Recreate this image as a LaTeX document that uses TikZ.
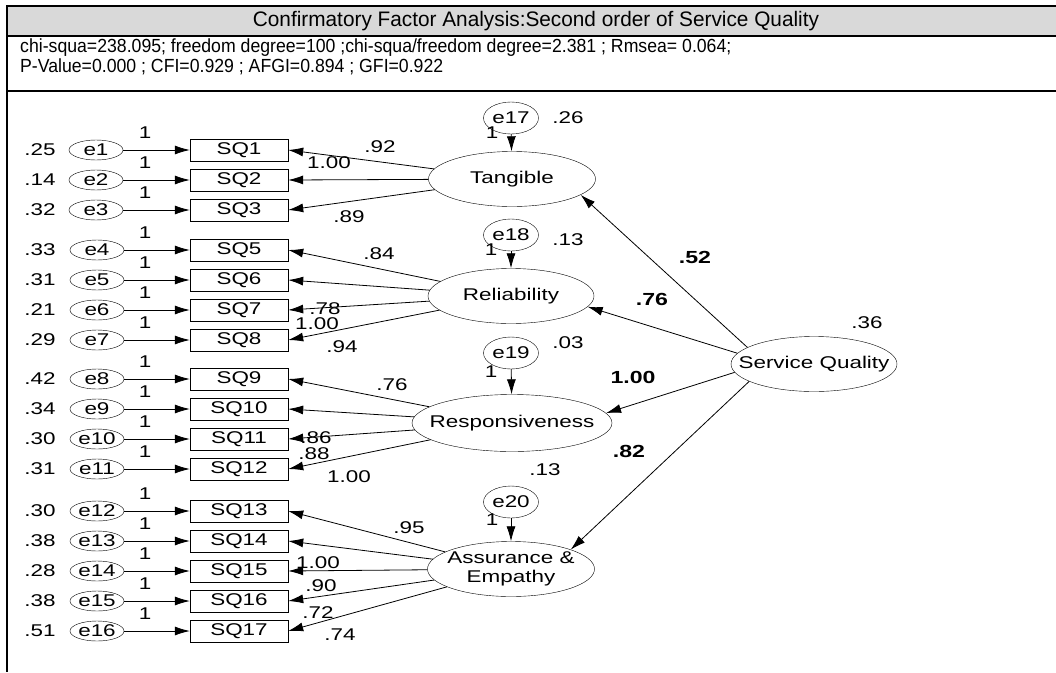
\documentclass[tikz,border=0pt]{standalone}
\usepackage{fontspec}
\setmainfont{Liberation Sans}
\newfontfamily\titlefont[FakeStretch=0.99]{Liberation Sans}
\newfontfamily\statfont[FakeStretch=0.93]{Liberation Sans}
\newfontfamily\bodyfont[FakeStretch=1.32]{Liberation Sans}
\usetikzlibrary{arrows.meta,shapes.geometric}
\tikzset{
  item/.style={draw, rectangle, minimum width=98pt, minimum height=22pt, inner sep=0pt},
  err/.style={draw, ellipse, minimum width=54pt, minimum height=20pt, inner sep=0pt},
  res/.style={draw, ellipse, minimum width=55pt, minimum height=32pt, inner sep=0pt},
  factor/.style={draw, ellipse, minimum width=167pt, minimum height=55pt, inner sep=0pt},
  load/.style={-{Latex[length=15pt,width=9pt]}, line width=0.8pt},
  coef/.style={font=\bodyfont\fontsize{17.5}{19}\selectfont\bfseries},
}

\begin{document}
\begin{tikzpicture}[x=1pt, y=-1pt, font=\bodyfont\fontsize{17}{19}\selectfont, inner sep=0pt]
            \useasboundingbox (0,0) rectangle (1056,672);
            \fill [black!15] (7,6) rectangle (1056,36);
            \draw [line width=2.6pt] (6,6) -- (1056,6);
            \draw [line width=2.6pt] (6,36) -- (1056,36);
            \draw [line width=2.6pt] (6,91) -- (1056,91);
            \draw [line width=2.6pt] (7,5) -- (7,672);
            \node [font=\titlefont\fontsize{21}{23}\selectfont] (title) at (536,21) {Confirmatory Factor Analysis:Second order of Service Quality};
            \node [font=\statfont\fontsize{19}{20}\selectfont, anchor=base west] (fit1) at (20,52) {chi-squa=238.095; freedom degree=100 ;chi-squa/freedom degree=2.381 ; Rmsea= 0.064;};
            \node [font=\statfont\fontsize{19}{20}\selectfont, anchor=base west] (fit2) at (20,72) {P-Value=0.000 ; CFI=0.929 ; AFGI=0.894 ; GFI=0.922};

            \node [factor, label={center:Tangible}] (tang) at (512,179) {};
            \node [factor, minimum width=166pt, label={center:Reliability}] (reli) at (511,296) {};
            \node [factor, minimum width=200pt, minimum height=57pt, label={center:Responsiveness}] (resp) at (512,423) {};
            \node [factor, label={[align=center]center:Assurance \&\\Empathy}] (assu) at (511,569) {};
            \node [factor, minimum width=166pt, label={center:Service Quality}] (serv) at (814,364) {};
            \node (vserv) at (867,323) {.36};

            \node [res] (e17) at (511,118) {e17};
            \node [res] (e18) at (511,235) {e18};
            \node [res] (e19) at (511,353) {e19};
            \node [res] (e20) at (511,502) {e20};
            \node (v17) at (568,118) {.26};
            \node (v18) at (568,240) {.13};
            \node (v19) at (568,343) {.03};
            \node (v20) at (545,470) {.13};
            \node (w17) at (492,133) {1};
            \node (w18) at (491,250) {1};
            \node (w19) at (491,372) {1};
            \node (w20) at (492,520) {1};
            \draw [load] (e17) -- (tang);
            \draw [load] (e18) -- (reli);
            \draw [load] (e19) -- (resp);
            \draw [load] (e20) -- (assu);

            \node [err] (e1) at (96,150) {e1};
            \node [err] (e2) at (96,180) {e2};
            \node [err] (e3) at (96,210) {e3};
            \node [err] (e4) at (97,250) {e4};
            \node [err] (e5) at (97,280) {e5};
            \node [err] (e6) at (97,310) {e6};
            \node [err] (e7) at (97,340) {e7};
            \node [err] (e8) at (97,379) {e8};
            \node [err] (e9) at (97,409) {e9};
            \node [err] (e10) at (97,439) {e10};
            \node [err] (e11) at (97,469) {e11};
            \node [err] (e12) at (97,511) {e12};
            \node [err] (e13) at (97,541) {e13};
            \node [err] (e14) at (97,571) {e14};
            \node [err] (e15) at (97,601) {e15};
            \node [err] (e16) at (97,631) {e16};

            \node [item] (sq1) at (239,150) {SQ1};
            \node [item] (sq2) at (239,180) {SQ2};
            \node [item] (sq3) at (239,210) {SQ3};
            \node [item] (sq5) at (239,250) {SQ5};
            \node [item] (sq6) at (239,280) {SQ6};
            \node [item] (sq7) at (239,310) {SQ7};
            \node [item] (sq8) at (239,340) {SQ8};
            \node [item] (sq9) at (239,379) {SQ9};
            \node [item] (sq10) at (239,409) {SQ10};
            \node [item] (sq11) at (239,439) {SQ11};
            \node [item] (sq12) at (239,469) {SQ12};
            \node [item] (sq13) at (239,511) {SQ13};
            \node [item] (sq14) at (239,541) {SQ14};
            \node [item] (sq15) at (239,571) {SQ15};
            \node [item] (sq16) at (239,601) {SQ16};
            \node [item] (sq17) at (239,631) {SQ17};

            \node (v1) at (40,150) {.25};
            \node (v2) at (40,180) {.14};
            \node (v3) at (40,210) {.32};
            \node (v4) at (40,250) {.33};
            \node (v5) at (40,280) {.31};
            \node (v6) at (40,310) {.21};
            \node (v7) at (40,340) {.29};
            \node (v8) at (40,379) {.42};
            \node (v9) at (40,409) {.34};
            \node (v10) at (40,439) {.30};
            \node (v11) at (40,469) {.31};
            \node (v12) at (40,511) {.30};
            \node (v13) at (40,541) {.38};
            \node (v14) at (40,571) {.28};
            \node (v15) at (40,601) {.38};
            \node (v16) at (40,631) {.51};

            \node (w1) at (145,133) {1};
            \node (w2) at (145,163) {1};
            \node (w3) at (145,193) {1};
            \node (w4) at (145,233) {1};
            \node (w5) at (145,263) {1};
            \node (w6) at (145,293) {1};
            \node (w7) at (145,323) {1};
            \node (w8) at (145,362) {1};
            \node (w9) at (145,392) {1};
            \node (w10) at (145,422) {1};
            \node (w11) at (145,452) {1};
            \node (w12) at (145,494) {1};
            \node (w13) at (145,524) {1};
            \node (w14) at (145,554) {1};
            \node (w15) at (145,584) {1};
            \node (w16) at (145,614) {1};

            \draw [load] (e1) -- (sq1);
            \draw [load] (e2) -- (sq2);
            \draw [load] (e3) -- (sq3);
            \draw [load] (e4) -- (sq5);
            \draw [load] (e5) -- (sq6);
            \draw [load] (e6) -- (sq7);
            \draw [load] (e7) -- (sq8);
            \draw [load] (e8) -- (sq9);
            \draw [load] (e9) -- (sq10);
            \draw [load] (e10) -- (sq11);
            \draw [load] (e11) -- (sq12);
            \draw [load] (e12) -- (sq13);
            \draw [load] (e13) -- (sq14);
            \draw [load] (e14) -- (sq15);
            \draw [load] (e15) -- (sq16);
            \draw [load] (e16) -- (sq17);

            \draw [load] (tang) -- (sq1.east);
            \draw [load] (tang) -- (sq2.east);
            \draw [load] (tang) -- (sq3.east);
            \draw [load] (reli) -- (sq5.east);
            \draw [load] (reli) -- (sq6.east);
            \draw [load] (reli) -- (sq7.east);
            \draw [load] (reli) -- (sq8.east);
            \draw [load] (resp) -- (sq9.east);
            \draw [load] (resp) -- (sq10.east);
            \draw [load] (resp) -- (sq11.east);
            \draw [load] (resp) -- (sq12.east);
            \draw [load] (assu) -- (sq13.east);
            \draw [load] (assu) -- (sq14.east);
            \draw [load] (assu) -- (sq15.east);
            \draw [load] (assu) -- (sq16.east);
            \draw [load] (assu) -- (sq17.east);

            \node (l1) at (380,147) {.92};
            \node (l2) at (329,163) {1.00};
            \node (l3) at (349,217) {.89};
            \node (l5) at (379,254) {.84};
            \node (l6) at (325,309) {.78};
            \node (l7) at (317,324) {1.00};
            \node (l8) at (342,347) {.94};
            \node (l9) at (392,385) {.76};
            \node (l10) at (316,438) {.86};
            \node (l11) at (314,454) {.88};
            \node (l12) at (349,477) {1.00};
            \node (l13) at (409,528) {.95};
            \node (l14) at (318,563) {1.00};
            \node (l15) at (321,586) {.90};
            \node (l16) at (318,613) {.72};
            \node (l17) at (340,635) {.74};

            \draw [load] (serv.166) -- (tang.-13);
            \draw [load] (serv.172) -- (reli.-8);
            \draw [load] (serv.186) -- (resp.6);
            \draw [load] (serv.195) -- (assu.18);
            \node [coef] (c1) at (695,257) {.52};
            \node [coef] (c2) at (652,299) {.76};
            \node [coef] (c3) at (633,377) {1.00};
            \node [coef] (c4) at (629,451) {.82};
        \end{tikzpicture}
\end{document}
